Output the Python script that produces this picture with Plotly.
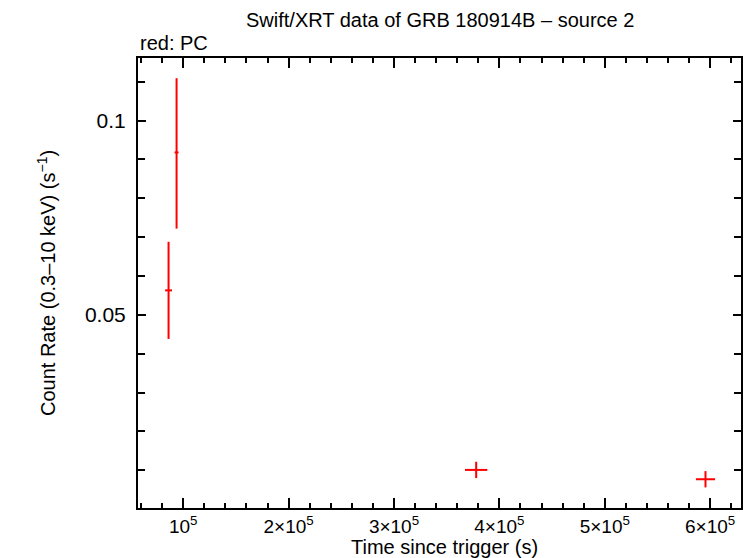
import plotly.graph_objects as go

# PC mode points
time_s = [86100, 93700, 378000, 595600]
time_err = [3300, 1900, 10600, 9100]
rate = [0.0563, 0.0918, 0.0101, 0.0077]
rate_err_plus = [0.0125, 0.0191, 0.0021, 0.0021]
rate_err_minus = [0.0125, 0.0196, 0.0021, 0.0021]

x_ticks = [1e5, 2e5, 3e5, 4e5, 5e5, 6e5]
x_labels = ['10<sup>5</sup>', '2×10<sup>5</sup>', '3×10<sup>5</sup>',
            '4×10<sup>5</sup>', '5×10<sup>5</sup>', '6×10<sup>5</sup>']
y_ticks = [0.05, 0.1]
y_labels = ['0.05', '0.1']

font = 'Liberation Sans, Arial, sans-serif'

pc = go.Scatter(
    x=time_s,
    y=rate,
    mode='markers',
    marker={'size': 1, 'color': 'red'},
    error_x={'type': 'data', 'array': time_err, 'color': 'red',
             'thickness': 2, 'width': 0},
    error_y={'type': 'data', 'array': rate_err_plus, 'arrayminus': rate_err_minus,
             'color': 'red', 'thickness': 2, 'width': 0},
    showlegend=False
)

axis_common = dict(
    showgrid=False, zeroline=False,
    showline=True, linecolor='black', linewidth=2,
    mirror='ticks', ticks='inside', tickcolor='black', tickwidth=2,
)

# page has an 8px body margin, so the figure is drawn 8px smaller
layout = go.Layout(
    width=743, height=550,
    margin={'l': 130, 'r': 8, 't': 50, 'b': 50},
    paper_bgcolor='white', plot_bgcolor='white',
    font={'family': font, 'color': 'black', 'size': 20},
    xaxis=dict(
        axis_common,
        range=[57100, 629300],
        tickvals=x_ticks, ticktext=x_labels, ticklen=10,
        tickfont={'size': 19, 'color': 'black', 'family': font},
        minor={'dtick': 20000, 'tick0': 0, 'ticks': 'inside', 'ticklen': 5,
               'tickcolor': 'black', 'tickwidth': 2},
    ),
    yaxis=dict(
        axis_common,
        range=[0.0003, 0.1161],
        tickvals=y_ticks, ticktext=y_labels, ticklen=8,
        tickfont={'size': 21, 'color': 'black', 'family': font},
        ticklabelstandoff=6,
        minor={'dtick': 0.01, 'tick0': 0, 'ticks': 'inside', 'ticklen': 7,
               'tickcolor': 'black', 'tickwidth': 2},
    ),
    annotations=[
        dict(text='Swift/XRT data of GRB 180914B – source 2', xref='paper', yref='paper',
             x=0.5, y=1, yshift=38, showarrow=False, xanchor='center', yanchor='middle'),
        dict(text='red: PC', xref='paper', yref='paper', x=0, y=1, yshift=15,
             showarrow=False, xanchor='left', yanchor='middle'),
        dict(text='Count Rate (0.3–10 keV) (s<sup>−1</sup>)', xref='paper', yref='paper',
             x=0, xshift=-92, y=0.5, textangle=-90, showarrow=False,
             xanchor='center', yanchor='middle'),
        dict(text='Time since trigger (s)', xref='paper', yref='paper',
             x=0.5, xshift=5, y=0, yshift=-39, showarrow=False,
             xanchor='center', yanchor='middle'),
    ]
)

fig = go.Figure(data=[pc], layout=layout)
fig.write_html('out.html')
